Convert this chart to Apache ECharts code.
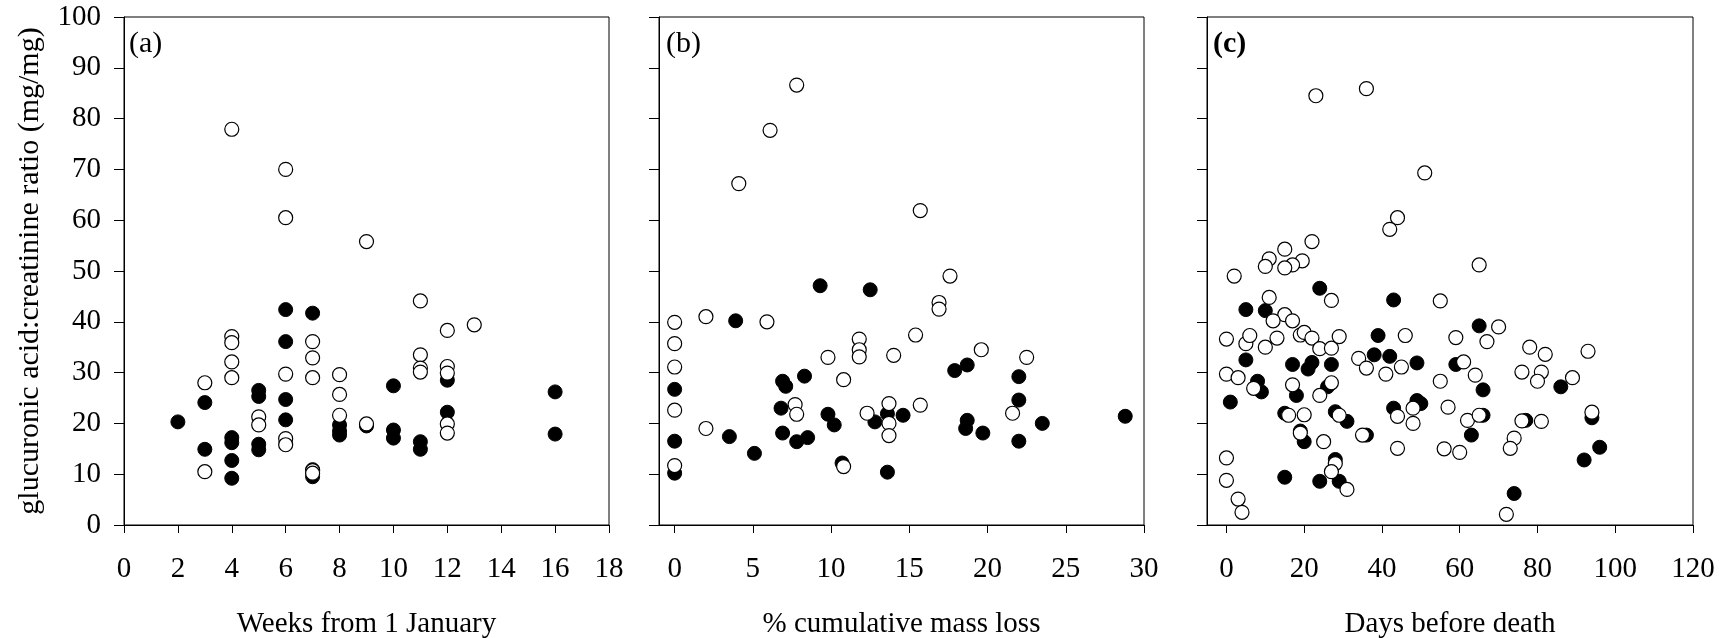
<!DOCTYPE html>
<html>
<head>
<meta charset="utf-8">
<script src="https://cdn.jsdelivr.net/npm/echarts@6/dist/echarts.min.js"></script>
<style>
html,body{margin:0;padding:0;background:#fff;}
#chart{width:1729px;height:638px;}
</style>
</head>
<body>
<div id="chart"></div>
<script>
// ---- data (x, ratio) ----
const weeksFilled = [[2,20.3],[3,24.1],[3,14.9],[4,17.2],[4,16.2],[4,12.7],[4,9.2],[5,26.5],[5,25.3],[5,15.9],[5,14.8],[6,42.4],[6,36.1],[6,24.7],[6,20.7],[7,41.7],[7,10.9],[7,9.5],[8,19.7],[8,18.5],[8,17.7],[9,19.5],[10,27.4],[10,18.7],[10,17.1],[11,16.4],[11,14.9],[12,28.5],[12,22.2],[16,26.2],[16,17.9]];
const weeksOpen = [[3,28.0],[3,10.5],[4,77.9],[4,37.1],[4,35.9],[4,32.1],[4,29.0],[5,21.3],[5,19.7],[6,70.0],[6,60.5],[6,29.7],[6,17.0],[6,15.8],[7,36.1],[7,32.9],[7,29.0],[7,10.7],[7,10.2],[8,29.6],[8,25.7],[8,21.6],[9,55.8],[9,19.9],[11,44.1],[11,33.5],[11,30.9],[11,30.1],[12,38.3],[12,31.2],[12,29.9],[12,19.9],[12,18.1],[13,39.4]];
const massFilled = [[9.3,47.1],[12.5,46.3],[3.9,40.2],[0,26.7],[0,16.5],[0,10.2],[8.3,29.3],[6.9,28.3],[7.1,27.3],[17.9,30.4],[18.7,31.5],[22.0,29.2],[22.0,24.6],[22.0,16.5],[6.8,23.0],[6.9,18.1],[9.8,21.8],[10.2,19.7],[13.6,21.9],[14.6,21.6],[12.8,20.3],[18.7,20.6],[18.6,19.0],[19.7,18.1],[23.5,20.0],[28.8,21.4],[3.5,17.4],[5.1,14.1],[7.8,16.4],[8.5,17.2],[10.7,12.2],[13.6,10.4]];
const massOpen = [[7.8,86.6],[6.1,77.7],[4.1,67.2],[15.7,61.9],[17.6,49.0],[16.9,43.8],[16.9,42.5],[0,39.9],[0,35.7],[0,31.1],[0,22.6],[0,11.7],[2.0,41.0],[2.0,19.0],[5.9,40.0],[15.4,37.4],[11.8,36.6],[11.8,34.5],[11.8,33.1],[9.8,33.0],[14.0,33.4],[19.6,34.5],[22.5,33.0],[10.8,28.6],[7.7,23.7],[7.8,21.8],[13.7,23.9],[13.7,20.0],[13.7,17.6],[12.3,22.0],[15.7,23.6],[21.6,22.0],[10.8,11.5]];
const daysFilled = [[24,46.6],[43,44.3],[5,42.4],[10,42.2],[65,39.2],[39,37.3],[38,33.5],[42,33.2],[5,32.5],[17,31.6],[22,32.0],[21,30.7],[27,31.6],[49,31.9],[59,31.6],[8,28.3],[9,26.2],[26,27.2],[66,26.6],[86,27.2],[18,25.5],[1,24.2],[49,24.5],[50,23.9],[43,23.0],[15,22.0],[28,22.3],[31,20.4],[66,21.6],[77,20.6],[94,21.1],[19,18.5],[20,16.4],[36,17.7],[63,17.7],[96,15.3],[92,12.8],[28,12.9],[15,9.4],[24,8.6],[29,8.6],[74,6.2]];
const daysOpen = [[36,85.9],[23,84.5],[51,69.3],[44,60.5],[42,58.2],[22,55.8],[15,54.3],[11,52.4],[19.5,52.0],[17,51.2],[10,50.9],[15,50.6],[65,51.2],[2,49.0],[11,44.8],[27,44.2],[55,44.1],[15,41.4],[17,40.2],[12,40.2],[70,39.0],[0,36.6],[5,35.7],[6,37.3],[10,35.0],[13,36.8],[19,37.4],[20,37.9],[22,36.8],[24,34.7],[27,34.8],[29,37.1],[46,37.3],[59,36.9],[67,36.1],[78,35.0],[82,33.6],[93,34.2],[34,32.8],[36,30.9],[45,31.1],[61,32.1],[41,29.7],[64,29.5],[0,29.7],[3,29.0],[76,30.1],[81,30.1],[80,28.3],[89,29.0],[55,28.3],[7,26.9],[17,27.6],[27,28.0],[24,25.5],[16,21.6],[20,21.7],[29,21.6],[44,21.4],[57,23.2],[48,23.0],[48,20.0],[62,20.6],[65,21.6],[76,20.5],[81,20.4],[94,22.2],[19,18.1],[35,17.7],[25,16.4],[74,17.1],[73,15.1],[56,15.0],[60,14.3],[44,15.1],[0,13.2],[0,8.8],[28,12.1],[27,10.5],[31,7.0],[3,5.1],[4,2.5],[72,2.1]];

// ---- tick labels / titles ----
const massTicks = [0,5,10,15,20,25,30];
const daysTicks = [0,20,40,60,80,100,120];
const xTitles = ['Weeks from 1 January','% cumulative mass loss','Days before death'];
const yTitle = 'glucuronic acid:creatinine ratio (mg/mg)';
const panelLabels = ['(a)','(b)','(c)'];

const FONT = '"Liberation Serif","Times New Roman",serif';
const FS = 29;

const grids = [
  {left:124, top:17, width:485, height:508},
  {left:659, top:17, width:485, height:508},
  {left:1207, top:17, width:486, height:508}
].map(g => Object.assign({show:true, borderColor:'#000', borderWidth:1, backgroundColor:'transparent',
  containLabel:false, outerBoundsMode:'none'}, g));

function xAxisBase(i){
  return {
    type:'value', gridIndex:i,
    name:xTitles[i], nameLocation:'middle', nameGap:85,
    nameTextStyle:{fontFamily:FONT, fontSize:FS, color:'#000'},
    axisLine:{show:true, onZero:false, lineStyle:{color:'#000', width:1}},
    axisTick:{show:true, inside:false, length:8, lineStyle:{color:'#000', width:1}},
    axisLabel:{fontFamily:FONT, fontSize:FS, color:'#000', margin:30},
    splitLine:{show:false}
  };
}
const xAxes = [xAxisBase(0), xAxisBase(1), xAxisBase(2)];
Object.assign(xAxes[0], {min:0, max:18, interval:2});
Object.assign(xAxes[1], {min:-1, max:30});
xAxes[1].axisTick.customValues = massTicks;
xAxes[1].axisLabel.customValues = massTicks;
Object.assign(xAxes[2], {min:-5, max:120});
xAxes[2].axisTick.customValues = daysTicks;
xAxes[2].axisLabel.customValues = daysTicks;

function yAxisBase(i){
  return {
    type:'value', gridIndex:i, min:0, max:100, interval:10,
    axisLine:{show:true, onZero:false, lineStyle:{color:'#000', width:1}},
    axisTick:{show:true, inside:false, length:10, lineStyle:{color:'#000', width:1}},
    axisLabel:{show:i===0, fontFamily:FONT, fontSize:FS, color:'#000', margin:23},
    splitLine:{show:false}
  };
}
const yAxes = [yAxisBase(0), yAxisBase(1), yAxisBase(2)];
Object.assign(yAxes[0], {name:yTitle, nameLocation:'middle', nameGap:79,
  nameTextStyle:{fontFamily:FONT, fontSize:30, color:'#000'}});

function filled(data, i){
  return {type:'scatter', xAxisIndex:i, yAxisIndex:i, data:data, symbol:'circle', symbolSize:14,
    itemStyle:{color:'#000', borderColor:'#000', borderWidth:1, opacity:1}, silent:true, z:2};
}
function open(data, i){
  return {type:'scatter', xAxisIndex:i, yAxisIndex:i, data:data, symbol:'circle', symbolSize:14,
    itemStyle:{color:'#fff', borderColor:'#000', borderWidth:1.2, opacity:1}, silent:true, z:3};
}

const labelPos = [[129,45],[666,45],[1213,45]];
const graphics = panelLabels.map((t,i)=>({
  type:'text', left:labelPos[i][0], top:labelPos[i][1]-16, z:10,
  style:{text:t, font:(i===2?'bold ':'')+'30px '+FONT, fill:'#000'}
}));

const chart = echarts.init(document.getElementById('chart'), null, {renderer:'canvas'});
chart.setOption({
  animation:false,
  backgroundColor:'#fff',
  grid:grids,
  xAxis:xAxes,
  yAxis:yAxes,
  graphic:graphics,
  series:[
    filled(weeksFilled,0), open(weeksOpen,0),
    filled(massFilled,1), open(massOpen,1),
    filled(daysFilled,2), open(daysOpen,2)
  ]
});
</script>
</body>
</html>
